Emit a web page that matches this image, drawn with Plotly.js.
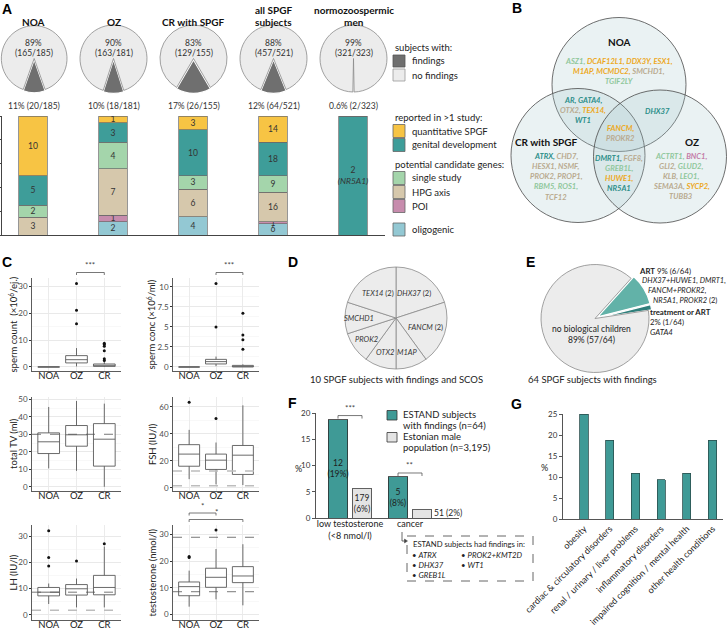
<!DOCTYPE html>
<html>
<head>
<meta charset="utf-8">
<script src="https://cdn.plot.ly/plotly-3.0.1.min.js"></script>
<style>
html,body{margin:0;padding:0;background:#ffffff;}
#chart{width:727px;height:629px;}
</style>
</head>
<body>
<div id="chart"></div>
<script>
// ======================= DATA =======================
// Panel A
const groupsA = ['NOA', 'OZ', 'CR with SPGF', 'all SPGF subjects', 'normozoospermic men'];
const groupTitlesA = ['NOA', 'OZ', 'CR with SPGF', 'all SPGF<br>subjects', 'normozoospermic<br>men'];
const subjectsWithFindings = [20, 18, 26, 64, 2];
const subjectsTotal = [185, 181, 155, 521, 323];
const findingCategories = ['oligogenic', 'POI', 'HPG axis', 'single study', 'genital development', 'quantitative SPGF'];
const oligogenic = [0, 2, 4, 6, 0];
const poi = [0, 1, 0, 1, 0];
const hpgAxis = [3, 7, 6, 16, 0];
const singleStudy = [2, 4, 3, 9, 0];
const genitalDevelopment = [5, 3, 10, 18, 2];
const quantitativeSPGF = [10, 1, 3, 14, 0];
const normozoospermicGene = 'NR5A1';

// Panel B (gene lists per Venn region; letter = gene class)
const vennNOA = [[['ASZ1,', 's'], ['DCAF12L1, DDX3Y, ESX1,', 'q']], [['M1AP, MCMDC2,', 'q'], ['SMCHD1,', 'h']], [['TGIF2LY', 's']]];
const vennNOAandCR = [[['AR, GATA4,', 'g']], [['OTX2,', 'h'], ['TEX14,', 'q']], [['WT1', 'g']]];
const vennNOAandOZ = [[['DHX37', 'g']]];
const vennAll = [[['FANCM,', 'q']], [['PROKR2', 'h']]];
const vennCRandOZ = [[['DMRT1,', 'g'], ['FGF8,', 'h']], [['GREB1L,', 's']], [['HUWE1,', 'q']], [['NR5A1', 'g']]];
const vennCR = [[['ATRX,', 'g'], ['CHD7,', 'h']], [['HESX1, NSMF,', 'h']], [['PROK2, PROP1,', 'h']], [['RBM5, ROS1,', 's']], [['TCF12', 'h']]];
const vennOZ = [[['ACTRT1,', 's'], ['BNC1,', 'p']], [['GLI2,', 'h'], ['GLUD2,', 's']], [['KLB,', 'h'], ['LEO1,', 's']], [['SEMA3A,', 'h'], ['SYCP2,', 'q']], [['TUBB3', 'h']]];

// Panel C (box statistics: NOA, OZ, CR)
const groupsC = ['NOA', 'OZ', 'CR'];
const countQ1 = [0, 1.5, 0.2], countMedian = [0, 2.7, 0.6], countQ3 = [0, 4.2, 1.1], countLow = [0, 0.2, 0], countHigh = [0, 7.0, 2.0];
const countOutX = ['OZ', 'OZ', 'OZ', 'CR', 'CR', 'CR', 'CR', 'CR', 'CR'];
const countOutY = [31, 21, 16, 8.8, 8.3, 7.7, 6.0, 3.0, 2.4];
const concQ1 = [0, 0.38, 0], concMedian = [0, 0.67, 0.05], concQ3 = [0, 0.95, 0.2], concLow = [0, 0.1, 0], concHigh = [0, 1.3, 0.33];
const concOutX = ['OZ', 'OZ', 'CR', 'CR', 'CR', 'CR'];
const concOutY = [10.4, 5.0, 6.7, 4.0, 3.4, 2.2];
const tvQ1 = [19, 23.2, 11.8], tvMedian = [25.7, 29.7, 27.2], tvQ3 = [30.8, 35, 36.1], tvLow = [10.5, 9.1, 0], tvHigh = [45.6, 49, 47.5];
const fshQ1 = [16, 13.6, 9.9], fshMedian = [25, 20.5, 24.2], fshQ3 = [32, 25, 31.4], fshLow = [6.4, 2.5, 2], fshHigh = [43, 33.6, 61.2];
const fshOutX = ['NOA', 'OZ'], fshOutY = [63.5, 51.4];
const lhQ1 = [7.2, 7.5, 7.6], lhMedian = [8.6, 9.9, 10.4], lhQ3 = [10.4, 11.5, 15], lhLow = [4.1, 2.8, 2.8], lhHigh = [11.9, 13.8, 26];
const lhOutX = ['NOA', 'NOA', 'NOA', 'OZ', 'CR'], lhOutY = [32, 21.8, 18.6, 20.5, 27.1];
const tQ1 = [7.1, 10.25, 12], tMedian = [10.5, 14, 14.5], tQ3 = [12.25, 17.4, 18], tLow = [3, 5.75, 3.5], tHigh = [16.5, 24.6, 26.4];
const tOutX = ['NOA', 'NOA', 'OZ'], tOutY = [21.75, 21.4, 31.75];
const tvRefDark = [30], fshRefLight = [12.4, 1.5], lhRefDark = [8.6], lhRefLight = [1.7], tRefDark = [8.6, 29];
const countSig = [['OZ', 'CR', '***']], concSig = [['OZ', 'CR', '***']], tSig = [['NOA', 'CR', '*'], ['NOA', 'OZ', '*']];

// Panel D
const scosGenes = ['DHX37', 'FANCM', 'M1AP', 'OTX2', 'PROK2', 'SMCHD1', 'TEX14'];
const scosCounts = [2, 2, 1, 1, 1, 1, 2];

// Panel E
const childOutcomes = ['ART', 'treatment or ART', 'no biological children'];
const childCounts = [6, 1, 57];
const artGenes = ['DHX37+HUWE1, DMRT1,', 'FANCM+PROKR2,', 'NR5A1, PROKR2'];
const treatmentGenes = ['GATA4'];

// Panel F
const fOutcomes = ['low testosterone<br>(&lt;8 nmol/l)', 'cancer'];
const estandCounts = [12, 5], estandN = 64;
const estonianCounts = [179, 51], estonianN = 3195;
const cancerGenesCol1 = ['ATRX', 'DHX37', 'GREB1L'];
const cancerGenesCol2 = ['PROK2+KMT2D', 'WT1'];
const fSig = [[0, '***'], [1, '**']];

// Panel G
const conditions = ['obesity', 'cardiac &amp; circulatory disorders', 'renal / urinary / liver problems', 'inflammatory disorders', 'impaired cognition / mental health', 'other health conditions'];
const conditionCounts = [16, 12, 7, 6, 7, 12];

// ======================= STYLE / HELPERS =======================
const W = 727, H = 629;
const FONT = 'Lato, "Open Sans", sans-serif';
const X = p => p / W, Y = p => 1 - p / H;
const traces = [], shapes = [], annotations = [];
const font = (size, color = '#222') => ({family: FONT, size: size, color: color});
function note(x, y, text, size, color, xanchor, extra) {
  annotations.push(Object.assign({xref: 'paper', yref: 'paper', x: X(x), y: Y(y), text: text, showarrow: false,
    xanchor: xanchor || 'center', yanchor: 'middle', align: xanchor || 'center', font: font(size || 9, color || '#222')}, extra || {}));
}
function rect(x0, y0, x1, y1, fill, line, lw) {
  shapes.push({type: 'rect', xref: 'paper', yref: 'paper', x0: X(x0), x1: X(x1), y0: Y(y1), y1: Y(y0),
    fillcolor: fill, line: {color: line || 'rgba(0,0,0,0)', width: lw === undefined ? 0.8 : lw}});
}
const pct = v => (v < 1 ? v.toFixed(1) : String(Math.round(v)));
const classColor = {q: '#eda81d', g: '#2b8e89', s: '#8fc79b', h: '#b9aa8f', p: '#c47ca7'};
const stackColors = ['#93c8d3', '#c78cad', '#d6c8ac', '#a4d5ab', '#3e9d99', '#f7c444'];
const teal = '#3f9a96';

// panel letters
[['A', 7, 9], ['B', 517, 8], ['C', 7, 262], ['D', 293, 262], ['E', 530, 262], ['F', 292, 403], ['G', 516, 404]].forEach(l =>
  note(l[1], l[2], '<b>' + l[0] + '</b>', 14, '#000', 'center', {font: {family: '"Liberation Sans", Arial, sans-serif', size: 14, color: '#000'}}));

// ======================= PANEL A: pies =======================
const pieRA = 33.5, pullA = 0.04, halfA = pieRA * (1 + pullA);
groupsA.forEach((g, i) => {
  const cx = 33.5 + 80 * i, cy = 58.5;
  const f = subjectsWithFindings[i], tot = subjectsTotal[i];
  traces.push({type: 'pie', values: [f, tot - f], labels: ['findings', 'no findings'], sort: false, direction: 'clockwise',
    rotation: 180 - f / tot * 180, pull: [pullA, 0],
    marker: {colors: ['#6f6f6f', '#ececec'], line: {color: ['#ffffff', '#8a8a8a'], width: [1.2, 0.8]}},
    textinfo: 'none', hoverinfo: 'skip', showlegend: false,
    domain: {x: [X(Math.max(0, cx - halfA)), X(cx + halfA)], y: [Y(cy + halfA), Y(cy - halfA)]}});
  const tl = groupTitlesA[i].split('<br>');
  if (tl.length === 1) note(cx, 21.7, '<b>' + tl[0] + '</b>', 10, '#111');
  else { note(cx, 10, '<b>' + tl[0] + '</b>', 10, '#111'); note(cx, 21.7, '<b>' + tl[1] + '</b>', 10, '#111'); }
  note(cx, 43, pct((tot - f) / tot * 100) + '%', 8.5, '#333');
  note(cx, 53, '(' + (tot - f) + '/' + tot + ')', 8.5, '#333');
  note(cx, 106, pct(f / tot * 100) + '% (' + f + '/' + tot + ')', 8.5, '#333');
});

// ======================= PANEL A: stacked bars =======================
const stackSeries = [oligogenic, poi, hpgAxis, singleStudy, genitalDevelopment, quantitativeSPGF];
stackSeries.forEach((s, k) => {
  traces.push({type: 'bar', x: groupsA, y: s.map((v, i) => v / subjectsWithFindings[i] * 100),
    text: s.map((v, i) => v ? (subjectsTotal[i] === 323 ? v + '<br><i>(' + normozoospermicGene + ')</i>' : String(v)) : ''),
    textposition: 'inside', insidetextanchor: 'middle', textangle: 0, constraintext: 'none',
    textfont: font(8.5, '#333'), width: 0.36,
    marker: {color: stackColors[k], line: {color: '#6a6a6a', width: 0.7}},
    xaxis: 'x', yaxis: 'y', hoverinfo: 'skip', showlegend: false, name: findingCategories[k]});
});

// legend A
note(393, 47, 'subjects with:', 9.5, '#222', 'left');
rect(393, 55, 405, 67, '#6f6f6f', '#555');
note(410, 61, 'findings', 9.5, '#222', 'left');
rect(393, 69, 405, 81, '#ececec', '#999');
note(410, 75, 'no findings', 9.5, '#222', 'left');
note(393, 117, 'reported in &gt;1 study:', 9.5, '#222', 'left');
note(393, 164, 'potential candidate genes:', 9.5, '#222', 'left');
const legendRowsY = {'quantitative SPGF': 131, 'genital development': 145, 'single study': 178, 'HPG axis': 192, 'POI': 206, 'oligogenic': 229.5};
findingCategories.forEach((c, k) => {
  const yy = legendRowsY[c];
  rect(393, yy - 6.5, 405, yy + 6.5, stackColors[k], '#666');
  note(410, yy, c, 9.5, '#222', 'left');
});

// ======================= PANEL B: Venn =======================
[[619, 84.5, 67], [578, 155.5, 67], [660, 156.5, 66.5]].forEach(c => {
  shapes.push({type: 'circle', xref: 'paper', yref: 'paper', x0: X(c[0] - c[2]), x1: X(c[0] + c[2]), y0: Y(c[1] + c[2]), y1: Y(c[1] - c[2]),
    fillcolor: 'rgba(167,201,205,0.24)', line: {color: '#4a4a4a', width: 0.8}});
});
note(619, 42, '<b>NOA</b>', 10, '#111');
note(546, 142, '<b>CR with SPGF</b>', 10, '#111');
note(692, 142, '<b>OZ</b>', 10, '#111');
const vennLine = segs => '<b><i>' + segs.map(s => '<span style="color:' + classColor[s[1]] + '">' + s[0] + '</span>').join(' ') + '</i></b>';
function vennBlock(lines, cx, yTop, step) {
  lines.forEach((ln, j) => note(cx, yTop + j * step, vennLine(ln), 7.6, '#333'));
}
vennBlock(vennNOA, 619, 61, 9.8);
vennBlock(vennNOAandCR, 583, 100, 10);
vennBlock(vennNOAandOZ, 657, 111, 10);
vennBlock(vennAll, 620, 128.3, 10);
vennBlock(vennCRandOZ, 619, 157.7, 10);
vennBlock(vennCR, 556, 155.7, 10.2);
vennBlock(vennOZ, 681, 155.7, 10);

// ======================= PANEL C: boxplots =======================
const cPanels = [
  {k: 2, x0: 32, x1: 121, y0: 278, y1: 371, range: [-1.5, 33], dtick: 10, minor: 5, title: 'sperm count  (×10<sup>6</sup>/ej.)', tx: 13,
    q1: countQ1, med: countMedian, q3: countQ3, lo: countLow, hi: countHigh, ox: countOutX, oy: countOutY, sig: countSig},
  {k: 3, x0: 173, x1: 259, y0: 278, y1: 371, range: [-0.5, 11.1], dtick: 2.5, minor: 1.25, title: 'sperm conc (×10<sup>6</sup>/ml)', tx: 151,
    q1: concQ1, med: concMedian, q3: concQ3, lo: concLow, hi: concHigh, ox: concOutX, oy: concOutY, sig: concSig},
  {k: 4, x0: 32, x1: 121, y0: 397, y1: 491, range: [-2.4, 51.3], dtick: 10, minor: 5, title: 'total TV (ml)', tx: 13,
    q1: tvQ1, med: tvMedian, q3: tvQ3, lo: tvLow, hi: tvHigh, ox: [], oy: [], dark: tvRefDark},
  {k: 5, x0: 173, x1: 259, y0: 397, y1: 491, range: [-2.4, 67.4], dtick: 20, minor: 10, title: 'FSH (IU/l)', tx: 152,
    q1: fshQ1, med: fshMedian, q3: fshQ3, lo: fshLow, hi: fshHigh, ox: fshOutX, oy: fshOutY, light: fshRefLight},
  {k: 6, x0: 32, x1: 121, y0: 525, y1: 620, range: [-2, 34.2], dtick: 10, minor: 5, title: 'LH (IU/l)', tx: 13,
    q1: lhQ1, med: lhMedian, q3: lhQ3, lo: lhLow, hi: lhHigh, ox: lhOutX, oy: lhOutY, dark: lhRefDark, light: lhRefLight},
  {k: 7, x0: 173, x1: 259, y0: 525, y1: 620, range: [-2, 33.6], dtick: 10, minor: 5, title: 'testosterone (nmol/l)', tx: 152,
    q1: tQ1, med: tMedian, q3: tQ3, lo: tLow, hi: tHigh, ox: tOutX, oy: tOutY, dark: tRefDark, sig: tSig}
];
const layoutAxes = {};
cPanels.forEach(p => {
  const xa = 'x' + p.k, ya = 'y' + p.k;
  layoutAxes['xaxis' + p.k] = {domain: [X(p.x0), X(p.x1)], anchor: ya, type: 'category', categoryorder: 'array', categoryarray: groupsC,
    range: [-0.6, 2.6], showgrid: true, gridcolor: '#ebebeb', gridwidth: 1, showline: true, linecolor: '#333', linewidth: 0.8,
    ticks: '', ticklabelstandoff: -4, tickfont: font(9.5, '#1a1a1a'), zeroline: false, fixedrange: true};
  layoutAxes['yaxis' + p.k] = {domain: [Y(p.y1), Y(p.y0)], anchor: xa, range: p.range, tick0: 0, dtick: p.dtick,
    showgrid: true, gridcolor: '#e9e9e9', gridwidth: 1, minor: {tick0: 0, dtick: p.minor, showgrid: true, gridcolor: '#f3f3f3', gridwidth: 0.6, ticks: ''},
    showline: true, linecolor: '#333', linewidth: 0.8, ticks: 'outside', ticklen: 2, tickcolor: '#333', tickfont: font(8, '#4d4d4d'),
    zeroline: false, fixedrange: true};
  traces.push({type: 'box', x: groupsC, q1: p.q1, median: p.med, q3: p.q3, lowerfence: p.lo, upperfence: p.hi,
    boxpoints: false, fillcolor: '#ffffff', line: {color: '#5a5a5a', width: 0.9}, whiskerwidth: 0, width: 0.78,
    xaxis: xa, yaxis: ya, hoverinfo: 'skip', showlegend: false});
  if (p.ox.length) traces.push({type: 'scatter', mode: 'markers', x: p.ox, y: p.oy, marker: {size: 3, color: '#111'},
    xaxis: xa, yaxis: ya, hoverinfo: 'skip', showlegend: false, cliponaxis: false});
  (p.dark || []).forEach(v => shapes.push({type: 'line', xref: xa + ' domain', yref: ya, x0: 0, x1: 1, y0: v, y1: v, line: {color: '#555', width: 0.8, dash: 'dash'}}));
  (p.light || []).forEach(v => shapes.push({type: 'line', xref: xa + ' domain', yref: ya, x0: 0, x1: 1, y0: v, y1: v, line: {color: '#bdbdbd', width: 1.6, dash: 'dash'}}));
  annotations.push({xref: 'paper', yref: ya + ' domain', x: X(p.tx), y: 0.5, textangle: -90, text: p.title, showarrow: false,
    xanchor: 'center', yanchor: 'middle', font: font(9.5, '#222')});
  (p.sig || []).forEach((s, j) => {
    const a = groupsC.indexOf(s[0]), b = groupsC.indexOf(s[1]);
    const yy = p.y0 - 5.5 - j * 6.5;
    shapes.push({type: 'line', xref: xa, yref: 'paper', x0: a, x1: b, y0: Y(yy), y1: Y(yy), line: {color: '#555', width: 0.8}});
    [a, b].forEach(e => shapes.push({type: 'line', xref: xa, yref: 'paper', x0: e, x1: e, y0: Y(yy), y1: Y(yy + 2.5), line: {color: '#555', width: 0.8}}));
    annotations.push({xref: xa, yref: 'paper', x: (a + b) / 2, y: Y(yy - 0.5), text: s[2], showarrow: false, xanchor: 'center', yanchor: 'bottom',
      font: font(8, '#444')});
  });
});

// ======================= PANEL D =======================
const dCx = 396, dCy = 318, dR = 51;
traces.push({type: 'pie', values: scosCounts, labels: scosGenes, sort: false, direction: 'clockwise', rotation: 0,
  marker: {colors: scosGenes.map(() => '#ececec'), line: {color: '#8a8a8a', width: 0.8}}, textinfo: 'none', hoverinfo: 'skip', showlegend: false,
  domain: {x: [X(dCx - dR), X(dCx + dR)], y: [Y(dCy + dR), Y(dCy - dR)]}});
(function () {
  const tot = scosCounts.reduce((a, b) => a + b, 0);
  let cum = 0;
  scosGenes.forEach((g, i) => {
    const mid = (cum + scosCounts[i] / 2) / tot * 2 * Math.PI;
    cum += scosCounts[i];
    const rf = scosCounts[i] > 1 ? 0.6 : 0.72;
    note(dCx + rf * dR * Math.sin(mid), dCy - rf * dR * Math.cos(mid), '<i>' + g + '</i>' + (scosCounts[i] > 1 ? ' (' + scosCounts[i] + ')' : ''), 7.5, '#333');
  });
})();
note(396, 379.5, scosCounts.reduce((a, b) => a + b, 0) + ' SPGF subjects with findings and SCOS', 9.5, '#222');

// ======================= PANEL E =======================
const eCx = 595, eCy = 318.5, eR = 54, eP = 0.06, eHalf = eR * (1 + eP);
traces.push({type: 'pie', values: childCounts, labels: childOutcomes, sort: false, direction: 'clockwise', rotation: 42, pull: [eP, eP, 0],
  marker: {colors: ['#62b2a8', '#2f7f7b', '#ececec'], line: {color: ['#ffffff', '#ffffff', '#8a8a8a'], width: [1.2, 1.2, 0.8]}},
  textinfo: 'none', hoverinfo: 'skip', showlegend: false,
  domain: {x: [X(eCx - eHalf), X(eCx + eHalf)], y: [Y(eCy + eHalf), Y(eCy - eHalf)]}});
(function () {
  const n = childCounts.reduce((a, b) => a + b, 0);
  note(637, 270.7, '<b>' + childOutcomes[0] + '</b> ' + pct(childCounts[0] / n * 100) + '% (' + childCounts[0] + '/' + n + ')', 7.8, '#222', 'left');
  note(640, 280.7, '<i>' + artGenes[0] + '</i>', 7.5, '#222', 'left');
  note(646, 290.7, '<i>' + artGenes[1] + '</i>', 7.5, '#222', 'left');
  note(650.5, 300.7, '<i>' + artGenes[2] + '</i> (2)', 7.5, '#222', 'left');
  note(648, 312.3, '<b>' + childOutcomes[1] + '</b>', 7.8, '#222', 'left');
  note(648, 322.3, pct(childCounts[1] / n * 100) + '% (' + childCounts[1] + '/' + n + ')', 7.8, '#222', 'left');
  note(648, 331.7, '<i>' + treatmentGenes[0] + '</i>', 7.8, '#222', 'left');
  note(591, 329, childOutcomes[2], 8.5, '#222');
  note(591, 340, pct(childCounts[2] / n * 100) + '% (' + childCounts[2] + '/' + n + ')', 8.5, '#222');
  note(592, 379.5, n + ' SPGF subjects with findings', 9.5, '#222');
})();

// ======================= PANEL F =======================
const estandPct = estandCounts.map(c => c / estandN * 100);
const estonianPct = estonianCounts.map(c => c / estonianN * 100);
traces.push({type: 'bar', x: fOutcomes.map((_, i) => i - 0.2), y: estandPct, width: 0.33,
  text: estandCounts.map((c, i) => c + '<br>(' + Math.round(estandPct[i]) + '%)'),
  textposition: 'inside', insidetextanchor: 'middle', textangle: 0, constraintext: 'none', textfont: font(8.5, '#1e1e1e'),
  marker: {color: teal, line: {color: '#2d2d2d', width: 0.8}}, xaxis: 'x8', yaxis: 'y8', hoverinfo: 'skip', showlegend: false});
traces.push({type: 'bar', x: fOutcomes.map((_, i) => i + 0.2), y: estonianPct, width: 0.33,
  text: estonianCounts.map((c, i) => estonianPct[i] > 3 ? c + '<br>(' + Math.round(estonianPct[i]) + '%)' : ''),
  textposition: 'inside', insidetextanchor: 'middle', textangle: 0, constraintext: 'none', textfont: font(8.5, '#1e1e1e'),
  marker: {color: '#e4e4e4', line: {color: '#3a3a3a', width: 0.8}}, xaxis: 'x8', yaxis: 'y8', hoverinfo: 'skip', showlegend: false});
estonianCounts.forEach((c, i) => {
  if (estonianPct[i] <= 3) annotations.push({xref: 'x8', yref: 'y8', x: i + 0.2 + 0.17, y: estonianPct[i] / 2 + 0.2, text: c + ' (' + Math.round(estonianPct[i]) + '%)',
    showarrow: false, xanchor: 'left', yanchor: 'middle', font: font(8.5, '#1e1e1e')});
});
layoutAxes.xaxis8 = {domain: [X(316), X(459)], anchor: 'y8', range: [-0.567, 1.817], tickvals: fOutcomes.map((_, i) => i), ticktext: fOutcomes,
  ticks: '', ticklabelstandoff: -3, showline: true, linecolor: '#555', linewidth: 1, showgrid: false, zeroline: false, tickfont: font(9, '#222'), fixedrange: true};
layoutAxes.yaxis8 = {domain: [Y(518), Y(413)], anchor: 'x8', range: [0, 20], tick0: 0, dtick: 5, ticks: 'outside', ticklen: 3, tickcolor: '#555',
  showline: true, linecolor: '#555', linewidth: 1, showgrid: false, zeroline: false, tickfont: font(8, '#333'), fixedrange: true};
note(298, 468, '%', 9, '#222');
fSig.forEach((s, j) => {
  const g = s[0];
  const top = Math.max(estandPct[g], estonianPct[g]);
  const yy = 518 - top / 20 * 105 - 4;
  shapes.push({type: 'line', xref: 'x8', yref: 'paper', x0: g - 0.2, x1: g + 0.2, y0: Y(yy), y1: Y(yy), line: {color: '#555', width: 0.8}});
  [g - 0.2, g + 0.2].forEach(e => shapes.push({type: 'line', xref: 'x8', yref: 'paper', x0: e, x1: e, y0: Y(yy), y1: Y(yy + 3), line: {color: '#555', width: 0.8}}));
  annotations.push({xref: 'x8', yref: 'paper', x: g, y: Y(yy - 0.5), text: s[1], showarrow: false, xanchor: 'center', yanchor: 'bottom', font: font(8, '#444')});
});
// F legend
rect(387, 410.5, 397, 420, teal, '#333');
note(401, 414.5, 'ESTAND subjects', 9.5, '#222', 'left');
note(401, 425, 'with findings (n=' + estandN + ')', 9.5, '#222', 'left');
rect(387, 432.5, 397, 442, '#e4e4e4', '#333');
note(401, 436.8, 'Estonian male', 9.5, '#222', 'left');
note(401, 447.3, 'population (n=' + estonianN.toLocaleString('en-US') + ')', 9.5, '#222', 'left');
// cancer box
shapes.push({type: 'rect', xref: 'paper', yref: 'paper', x0: X(407), x1: X(533), y0: Y(581), y1: Y(536), line: {color: '#555', width: 0.9, dash: 'dash'}, fillcolor: 'rgba(0,0,0,0)'});
shapes.push({type: 'path', xref: 'paper', yref: 'paper', path: 'M' + X(402) + ',' + Y(532) + ' L' + X(402) + ',' + Y(541) + ' L' + X(405) + ',' + Y(541), line: {color: '#444', width: 0.8}});
shapes.push({type: 'path', xref: 'paper', yref: 'paper', path: 'M' + X(404.5) + ',' + Y(539) + ' L' + X(407.5) + ',' + Y(541) + ' L' + X(404.5) + ',' + Y(543) + ' Z', fillcolor: '#444', line: {color: '#444', width: 0.5}});
note(411, 544.3, 'ESTAND subjects had findings in:', 7.7, '#222', 'left');
cancerGenesCol1.forEach((g, j) => note(410, 554.5 + j * 10, '• <i>' + g + '</i>', 7.8, '#222', 'left'));
cancerGenesCol2.forEach((g, j) => note(459, 554.5 + j * 10, '• <i>' + g + '</i>', 7.8, '#222', 'left'));

// ======================= PANEL G =======================
traces.push({type: 'bar', x: conditions, y: conditionCounts.map(c => c / estandN * 100), width: 0.32,
  marker: {color: teal, line: {color: '#2b4f4e', width: 0.8}}, xaxis: 'x9', yaxis: 'y9', hoverinfo: 'skip', showlegend: false});
layoutAxes.xaxis9 = {domain: [X(563), X(723)], anchor: 'y9', type: 'category', range: [-0.82, 5.41], ticks: '', tickangle: -45,
  showline: true, linecolor: '#555', linewidth: 1, showgrid: false, zeroline: false, tickfont: font(9, '#222'), fixedrange: true};
layoutAxes.yaxis9 = {domain: [Y(519), Y(414)], anchor: 'x9', range: [0, 25], tick0: 0, dtick: 5, ticks: 'outside', ticklen: 3, tickcolor: '#555',
  showline: true, linecolor: '#555', linewidth: 1, showgrid: false, zeroline: false, tickfont: font(8, '#333'), fixedrange: true};
note(544, 467, '%', 9, '#222');

// ======================= LAYOUT =======================
const layout = Object.assign({
  width: W, height: H, margin: {l: 0, r: 0, t: 0, b: 0}, paper_bgcolor: '#ffffff', plot_bgcolor: '#ffffff',
  showlegend: false, barmode: 'stack', bargap: 0, hovermode: false, font: font(9, '#222'),
  xaxis: {domain: [X(2), X(385)], anchor: 'y', type: 'category', range: [-0.3875, 4.4], showline: true, linecolor: '#444', linewidth: 1,
    ticks: '', showticklabels: false, showgrid: false, zeroline: false, fixedrange: true},
  yaxis: {domain: [Y(235), Y(116)], anchor: 'x', range: [0, 100], tickvals: [0, 20, 40, 60, 80, 100], showticklabels: false,
    showline: true, linecolor: '#444', linewidth: 1, ticks: 'outside', ticklen: 3, tickcolor: '#444', showgrid: false, zeroline: false, fixedrange: true},
  shapes: shapes, annotations: annotations
}, layoutAxes);

Plotly.newPlot('chart', traces, layout, {displayModeBar: false, staticPlot: true});
</script>
</body>
</html>
